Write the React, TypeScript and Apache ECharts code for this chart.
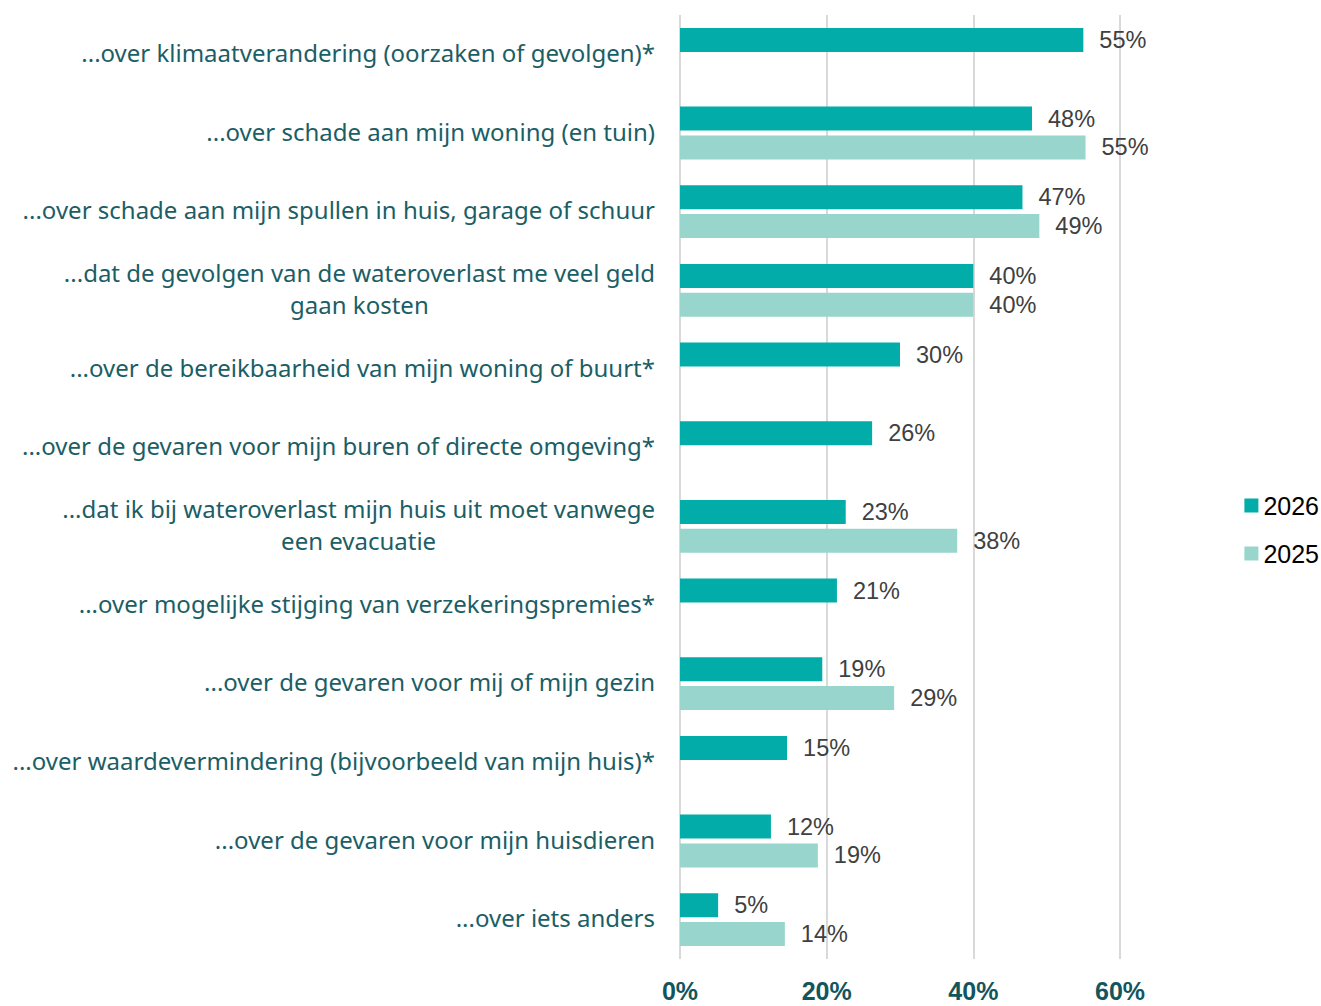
import React, { useEffect, useRef } from "react";
import * as echarts from "echarts";

const categories = [
  "...over klimaatverandering (oorzaken of gevolgen)*",
  "...over schade aan mijn woning (en tuin)",
  "...over schade aan mijn spullen in huis, garage of schuur",
  "...dat de gevolgen van de wateroverlast me veel geld\ngaan kosten",
  "...over de bereikbaarheid van mijn woning of buurt*",
  "...over de gevaren voor mijn buren of directe omgeving*",
  "...dat ik bij wateroverlast mijn huis uit moet vanwege\neen evacuatie",
  "...over mogelijke stijging van verzekeringspremies*",
  "...over de gevaren voor mij of mijn gezin",
  "...over waardevermindering (bijvoorbeeld van mijn huis)*",
  "...over de gevaren voor mijn huisdieren",
  "...over iets anders",
];

const values2026 = [55, 48, 46.7, 40, 30, 26.2, 22.6, 21.4, 19.4, 14.6, 12.4, 5.2];
const values2025 = [null, 55.3, 49, 40, null, null, 37.8, null, 29.2, null, 18.8, 14.3];

const seriesNames = ["2026", "2025"];
const xTicks = [0, 20, 40, 60];

const COLOR_2026 = "#02ADA9";
const COLOR_2025 = "#98D6CD";

export default function App() {
  const ref = useRef<HTMLDivElement>(null);
  useEffect(() => {
    if (!ref.current) return;
    const chart = echarts.init(ref.current, undefined, { renderer: "svg" });
    const labelStyle = {
      show: true,
      position: "right",
      distance: 16,
      color: "#404040",
      fontFamily: "Liberation Sans",
      fontSize: 23.5,
      formatter: (p: any) => (p.value == null ? "" : Math.round(p.value) + "%"),
    };
    chart.setOption({
      animation: false,
      grid: { left: 680, right: 201, top: 15, bottom: 47, containLabel: false },
      legend: {
        orient: "vertical",
        right: 2,
        top: 493,
        padding: 0,
        itemWidth: 14,
        itemHeight: 14,
        itemGap: 23,
        icon: "rect",
        textStyle: { fontFamily: "Liberation Sans", fontSize: 25, color: "#000" },
        data: seriesNames,
      },
      xAxis: {
        type: "value",
        min: xTicks[0],
        max: xTicks[xTicks.length - 1],
        interval: 20,
        axisLine: { show: false },
        axisTick: { show: false },
        splitLine: { lineStyle: { color: "#D9D9D9", width: 2 } },
        axisLabel: {
          margin: 21,
          fontFamily: "Liberation Sans",
          fontWeight: "bold",
          fontSize: 25,
          lineHeight: 22,
          color: "#13555D",
          formatter: (v: number) => v + "%",
        },
      },
      yAxis: {
        type: "category",
        inverse: true,
        data: categories,
        axisLine: { show: false },
        axisTick: { show: false },
        axisLabel: {
          margin: 25,
          formatter: (v: string) => v.split("\n").map((l) => `{c|${l}}`).join("\n"),
          rich: {
            c: {
              align: "center",
              fontFamily: "Noto Sans",
              fontSize: 24,
              color: "#1B5E66",
              lineHeight: 32,
              padding: [0, 0, 4, 0],
            },
          },
        },
      },
      series: [
        {
          name: seriesNames[0],
          type: "bar",
          data: values2026,
          barWidth: 24,
          barGap: "20%",
          itemStyle: { color: COLOR_2026 },
          label: labelStyle,
        },
        {
          name: seriesNames[1],
          type: "bar",
          data: values2025,
          barWidth: 24,
          barGap: "20%",
          itemStyle: { color: COLOR_2025 },
          label: labelStyle,
        },
      ],
    });
    return () => chart.dispose();
  }, []);
  return <div ref={ref} style={{ width: 1321, height: 1006, position: "absolute", left: 0, top: 0 }} />;
}
